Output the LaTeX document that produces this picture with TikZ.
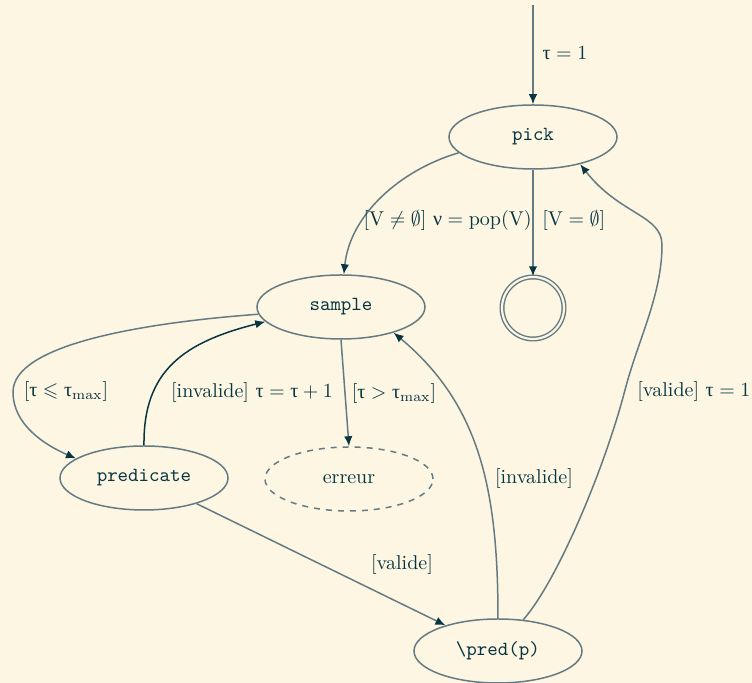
\documentclass[tikz,border=0pt]{standalone}
\usepackage{amssymb}
\usepackage{fontspec}
\newfontfamily\grk{Liberation Serif}
\newcommand{\gtau}{\mbox{\grk τ}}
\newcommand{\gnu}{\mbox{\grk ν}}
\usetikzlibrary{arrows.meta,shapes.geometric}

\definecolor{paper}{HTML}{FDF6E3}
\definecolor{edgecol}{HTML}{657B83}
\definecolor{ink}{HTML}{073642}

\begin{document}
\begin{tikzpicture}[x=0.5pt,y=-0.5pt,
  state/.style={ellipse, draw=edgecol, line width=0.75pt, minimum width=84pt,
    minimum height=32pt, inner sep=0pt, text=ink, font=\ttfamily},
  errstate/.style={state, dashed, font=\rmfamily},
  final/.style={circle, draw=edgecol, line width=0.7pt, double=paper,
    double distance=1.1pt, minimum size=31pt, inner sep=0pt},
  trans/.style={draw=edgecol, line width=0.75pt,
    -{Latex[length=5pt,width=4.2pt,color=ink]}},
  strong/.style={trans, draw=ink},
  lbl/.style={text=ink, inner sep=0pt}
]
\fill[paper] (0,0) rectangle (752,683);
\useasboundingbox (0,0) rectangle (752,683);

% states
\node[state] (pick) at (533,137) {pick};
\node[state] (sample) at (341,307) {sample};
\node[final] (done) at (533,308) {};
\node[state] (predicate) at (144,478) {predicate};
\node[errstate] (erreur) at (349,479) {erreur};
\node[state] (pred) at (498,651) {\textbackslash pred(p)};
\coordinate (start) at (533,5);

% transitions
\draw[trans] (start) -- (pick.north);
\draw[trans] (pick.192) .. controls (400,170) and (350,215) .. (sample.85);
\draw[trans] (pick.south) -- (done.north);
\draw[trans] (sample.185) .. controls (140,323) and (13,345) .. (13,392)
  .. controls (13,425) and (45,445) .. (predicate.164);
\draw[strong] (predicate.north) .. controls (143,370) and (185,342) .. (sample.191);
\draw[trans] (sample.south) -- (erreur.north);
\draw[trans] (predicate) -- (pred);
\draw[trans] (pred.north) .. controls (498,490) and (480,405) .. (sample.-26);
\draw[trans] (pred.51) .. controls (558,580) and (605,467) .. (625,390)
  .. controls (638,340) and (662,295) .. (662,245)
  .. controls (662,215) and (620,215) .. (pick.-30);

% labels
\node[lbl] (l0) at (565,53) {$\gtau = 1$};
\node[lbl, anchor=east] (l1) at (532,221) {$[\mathrm{V} \neq \emptyset]\ \gnu = \mathrm{pop}(\mathrm{V})$};
\node[lbl, anchor=west] (l2) at (542,221) {$[\mathrm{V} = \emptyset]$};
\node[lbl] (l3) at (66,392) {$[\gtau \leqslant \gtau_{\mathrm{max}}]$};
\node[lbl] (l4) at (252,393) {[invalide] $\gtau = \gtau + 1$};
\node[lbl] (l5) at (394,394) {$[\gtau > \gtau_{\mathrm{max}}]$};
\node[lbl] (l6) at (534,479) {[invalide]};
\node[lbl, anchor=west] (l7) at (637,392) {[valide] $\gtau = 1$};
\node[lbl] (l8) at (402,565) {[valide]};
\end{tikzpicture}
\end{document}
